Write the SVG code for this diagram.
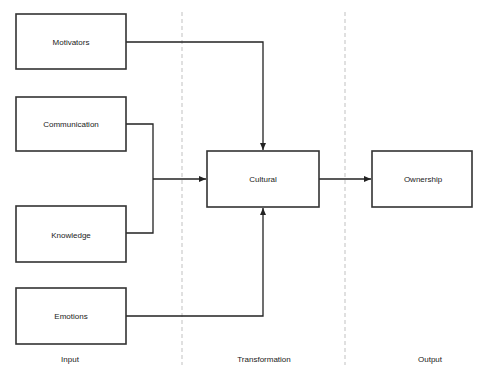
<svg xmlns="http://www.w3.org/2000/svg" width="478" height="365" viewBox="0 0 478 365">
<style>
.box{fill:#fff;stroke:#333;stroke-width:1.6}
.t{font-family:"Liberation Sans",Arial,sans-serif;font-size:8px;fill:#222;text-anchor:middle;dominant-baseline:central}
.c{fill:none;stroke:#222;stroke-width:1.3}
.d{stroke:#ccc;stroke-width:1.2;stroke-dasharray:4,3}
</style>
<defs>
<marker id="a" markerWidth="8" markerHeight="8" refX="7" refY="4" orient="auto" markerUnits="userSpaceOnUse">
<path d="M0,1 L7,4 L0,7 Z" fill="#222"/>
</marker>
</defs>
<g id="lanes">
<line class="d" x1="182" y1="12" x2="182" y2="365"/>
<line class="d" x1="345" y1="12" x2="345" y2="365"/>
<text class="t" x="70" y="359">Input</text>
<text class="t" x="264" y="359">Transformation</text>
<text class="t" x="430" y="359">Output</text>
</g>
<g id="connectors">
<path class="c" d="M126,42 H263 V150" marker-end="url(#a)"/>
<path class="c" d="M126,124 H153 V233 H126"/>
<path class="c" d="M153,179 H206" marker-end="url(#a)"/>
<path class="c" d="M126,316 H263 V208" marker-end="url(#a)"/>
<path class="c" d="M319,179 H371" marker-end="url(#a)"/>
</g>
<g id="motivators"><rect class="box" x="16" y="14" width="110" height="55"/><text class="t" x="71" y="42">Motivators</text></g>
<g id="communication"><rect class="box" x="16" y="97" width="110" height="54"/><text class="t" x="71" y="124">Communication</text></g>
<g id="knowledge"><rect class="box" x="16" y="206" width="110" height="56"/><text class="t" x="71" y="235">Knowledge</text></g>
<g id="emotions"><rect class="box" x="16" y="288" width="110" height="56"/><text class="t" x="71" y="316">Emotions</text></g>
<g id="cultural"><rect class="box" x="207" y="151" width="112" height="56"/><text class="t" x="263" y="179">Cultural</text></g>
<g id="ownership"><rect class="box" x="372" y="151" width="100" height="56"/><text class="t" x="423" y="179">Ownership</text></g>
</svg>
